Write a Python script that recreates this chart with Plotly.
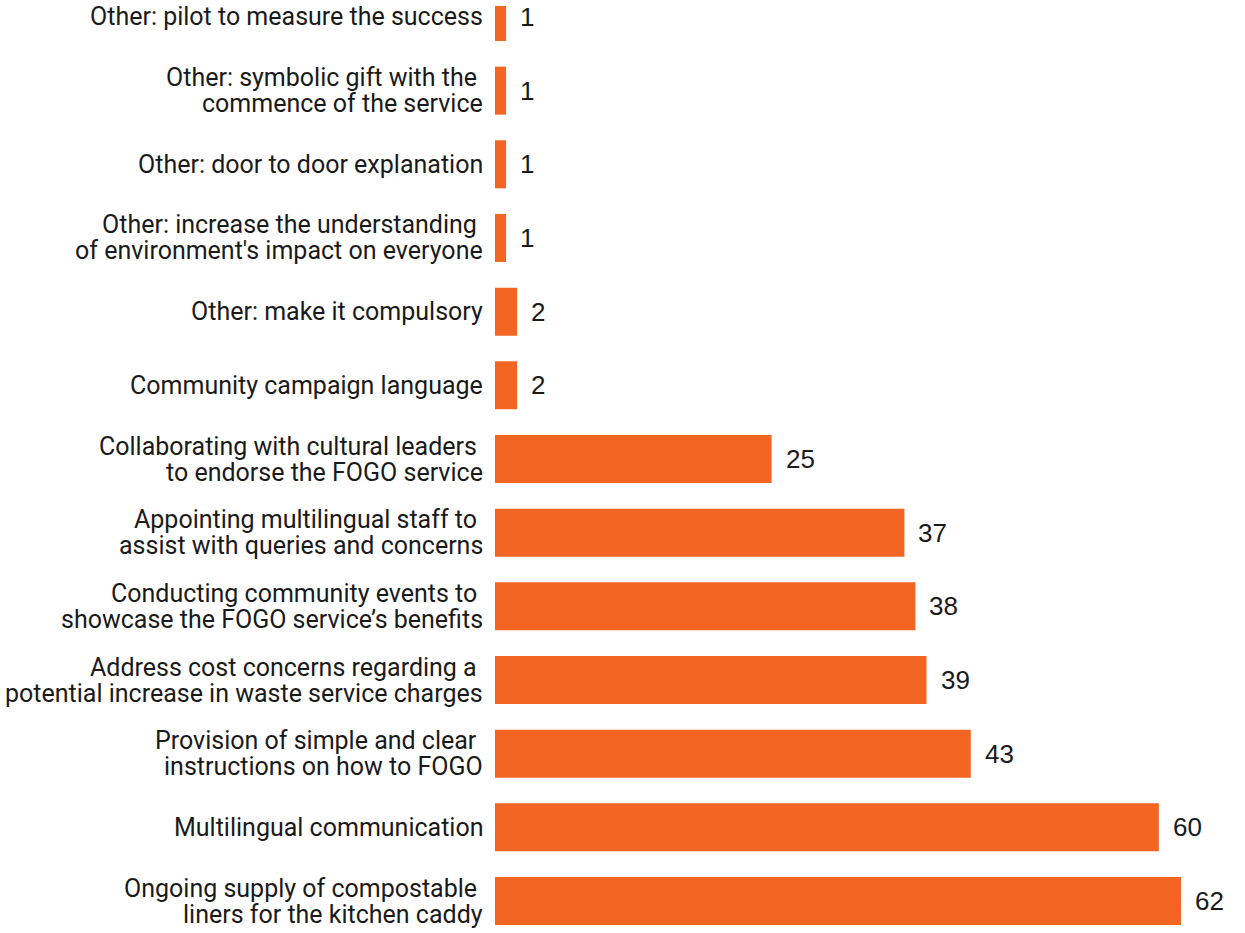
import plotly.graph_objects as go

# Strategies, listed top to bottom as drawn
categories = [
    "Other: pilot to measure the success",
    "Other: symbolic gift with the\u00a0<br>commence of the service",
    "Other: door to door explanation",
    "Other: increase the understanding\u00a0<br>of environment's impact on everyone",
    "Other: make it compulsory",
    "Community campaign language",
    "Collaborating with cultural leaders\u00a0<br>to endorse the FOGO service",
    "Appointing multilingual staff to\u00a0<br>assist with queries and concerns",
    "Conducting community events to\u00a0<br>showcase the FOGO service\u2019s benefits",
    "Address cost concerns regarding a\u00a0<br>potential increase in waste service charges",
    "Provision of simple and clear\u00a0<br>instructions on how to FOGO",
    "Multilingual communication",
    "Ongoing supply of compostable\u00a0<br>liners for the kitchen caddy",
]
counts = [1, 1, 1, 1, 2, 2, 25, 37, 38, 39, 43, 60, 62]

BAR_COLOR = "#F26522"
TEXT_COLOR = "#1a1a1a"
LABEL_FONT = "Roboto"
VALUE_FONT = "Liberation Sans"
LABEL_SIZE = 25
LINE_GAP = 26

fig = go.Figure(
    go.Bar(
        x=counts,
        y=categories,
        orientation="h",
        marker=dict(color=BAR_COLOR, line=dict(width=0)),
        width=0.652,
        hoverinfo="x+y",
    )
)

annotations = []
for cat, val in zip(categories, counts):
    # value label just past the bar end
    annotations.append(dict(
        x=val, y=cat, xref="x", yref="y",
        text=str(val), showarrow=False,
        xanchor="left", yanchor="middle", xshift=12,
        font=dict(family=VALUE_FONT, size=26, color=TEXT_COLOR),
    ))
    # category label, one annotation per line for tight line spacing
    lines = cat.split("<br>")
    n = len(lines)
    for k, line in enumerate(lines):
        offset = ((n - 1) / 2 - k) * LINE_GAP
        annotations.append(dict(
            x=0, y=cat, xref="paper", yref="y",
            text=line, showarrow=False,
            xanchor="right", yanchor="middle", xshift=-10, yshift=offset,
            font=dict(family=LABEL_FONT, size=LABEL_SIZE, color=TEXT_COLOR),
        ))

fig.update_layout(
    width=1245,
    height=933,
    margin=dict(l=495, r=64, t=6, b=0),
    paper_bgcolor="white",
    plot_bgcolor="white",
    showlegend=False,
    annotations=annotations,
    xaxis=dict(range=[0, 62], visible=False, fixedrange=True),
    yaxis=dict(
        type="category",
        categoryorder="array",
        categoryarray=categories,
        range=[12.434, -0.149],
        showticklabels=False,
        showgrid=False,
        zeroline=False,
        showline=False,
        ticks="",
    ),
)

fig.write_html("out.html")
